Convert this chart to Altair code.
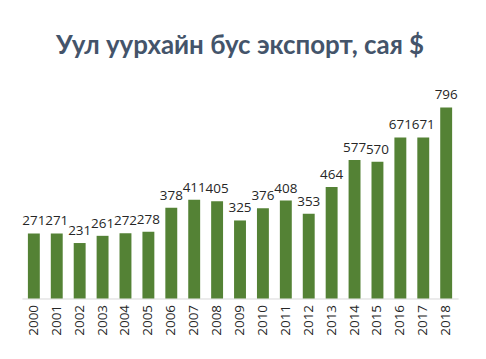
import altair as alt
import pandas as pd

years = [str(y) for y in range(2000, 2019)]
values = [271, 271, 231, 261, 272, 278, 378, 411, 405, 325, 376, 408, 353, 464, 577, 570, 671, 671, 796]

df = pd.DataFrame({"year": years, "value": values})

base = alt.Chart(df).encode(
    x=alt.X("year:N", sort=years, title=None,
            scale=alt.Scale(paddingInner=0.48, paddingOuter=0.26),
            axis=alt.Axis(labelAngle=-90, labelFont="Open Sans", labelFontSize=13.5,
                          labelColor="#262626", domainColor="#d9d9d9", domainWidth=1,
                          ticks=False, labelPadding=6)),
    y=alt.Y("value:Q", title=None, scale=alt.Scale(domain=[0, 900], nice=False),
            axis=None),
)

bars = base.mark_bar(color="#548235")
labels = base.mark_text(dy=-12, font="Open Sans", fontSize=13.5, color="#262626").encode(text="value:Q")

chart = (bars + labels).properties(
    width=438, height=217,
    background="white",
    title=alt.Title("Уул уурхайн бус экспорт, сая $", font="Lato", fontSize=26,
                    fontWeight="bold", color="#44546a", anchor="middle", offset=24),
    autosize=alt.AutoSizeParams(type="none"),
    padding={"left": 14, "top": 74, "right": 20, "bottom": 50},
).configure_view(stroke=None)

chart.save("out.html", embed_options={"renderer": "svg", "actions": False})
